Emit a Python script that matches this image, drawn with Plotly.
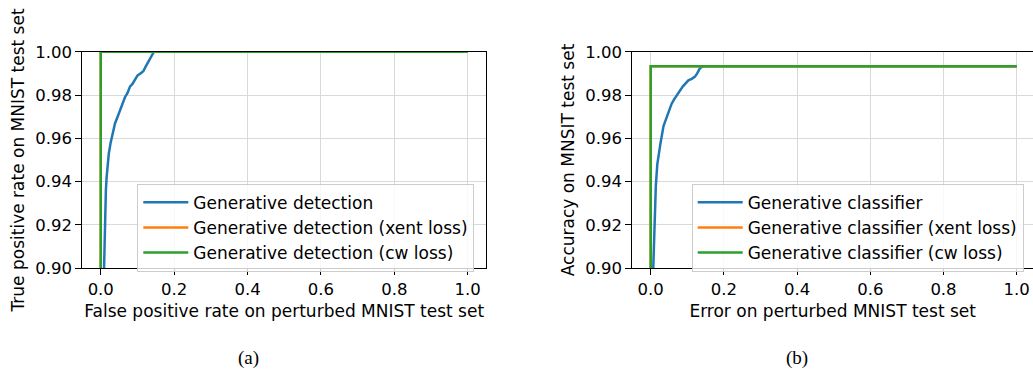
import plotly.graph_objects as go

# ---------------- data ----------------
# (a) detection ROC curves
fpr_gen = [0.009, 0.010, 0.012, 0.014, 0.016, 0.019, 0.022, 0.027, 0.033, 0.039, 0.046,
           0.053, 0.060, 0.066, 0.073, 0.080, 0.086, 0.092, 0.100, 0.108, 0.116, 0.122,
           0.128, 0.134, 0.140, 0.145, 1.0]
tpr_gen = [0.900, 0.912, 0.925, 0.936, 0.942, 0.948, 0.953, 0.958, 0.963, 0.967, 0.970,
           0.973, 0.976, 0.979, 0.981, 0.984, 0.985, 0.987, 0.989, 0.990, 0.991, 0.993,
           0.995, 0.997, 0.999, 1.000, 1.000]
fpr_xent = [0.0, 0.0, 1.0]
tpr_xent = [0.90, 1.0, 1.0]
fpr_cw = [0.0, 0.0, 1.0]
tpr_cw = [0.90, 1.0, 1.0]

# (b) classifier accuracy vs error
err_gen = [0.007, 0.009, 0.011, 0.014, 0.018, 0.022, 0.027, 0.035, 0.042, 0.050, 0.057,
           0.064, 0.072, 0.080, 0.088, 0.096, 0.103, 0.112, 0.121, 0.127, 0.134, 0.140,
           0.145, 1.0]
acc_gen = [0.900, 0.915, 0.928, 0.938, 0.948, 0.953, 0.958, 0.9657, 0.969, 0.973, 0.9759,
           0.978, 0.980, 0.9825, 0.984, 0.9855, 0.9868, 0.9875, 0.9885, 0.990, 0.9922, 0.9930,
           0.9933, 0.9933]
err_xent = [0.0, 0.0, 1.0]
acc_xent = [0.90, 0.9933, 0.9933]
err_cw = [0.0, 0.0, 1.0]
acc_cw = [0.90, 0.9933, 0.9933]

names_a = ["Generative detection", "Generative detection (xent loss)", "Generative detection (cw loss)"]
names_b = ["Generative classifier", "Generative classifier (xent loss)", "Generative classifier (cw loss)"]
colors = ["#1f77b4", "#ff7f0e", "#2ca02c"]

x_ticks = [0.0, 0.2, 0.4, 0.6, 0.8, 1.0]
x_ticktext = ["0.0", "0.2", "0.4", "0.6", "0.8", "1.0"]
y_ticks = [0.90, 0.92, 0.94, 0.96, 0.98, 1.00]
y_ticktext = ["0.90", "0.92", "0.94", "0.96", "0.98", "1.00"]

W, H = 1033, 377
FONT = "DejaVu Sans"

fig = go.Figure()

series_a = [(fpr_gen, tpr_gen), (fpr_xent, tpr_xent), (fpr_cw, tpr_cw)]
series_b = [(err_gen, acc_gen), (err_xent, acc_xent), (err_cw, acc_cw)]

for i, (xs, ys) in enumerate(series_a):
    fig.add_trace(go.Scatter(x=xs, y=ys, mode="lines", name=names_a[i],
                             line=dict(color=colors[i], width=2.5),
                             xaxis="x", yaxis="y", legend="legend"))
for i, (xs, ys) in enumerate(series_b):
    fig.add_trace(go.Scatter(x=xs, y=ys, mode="lines", name=names_b[i],
                             line=dict(color=colors[i], width=2.5),
                             xaxis="x2", yaxis="y2", legend="legend2"))

ydom = [1 - 273 / H, 1 - 45 / H]
xdom1 = [82.4 / W, 486 / W]
xdom2 = [632.4 / W, 1.0]

common_axis = dict(showline=True, linecolor="black", linewidth=1.3,
                   ticks="outside", ticklen=6, tickwidth=1.3, tickcolor="black",
                   showgrid=True, gridcolor="#d9d9d9", gridwidth=1.2,
                   zeroline=False, tickfont=dict(family=FONT, size=16.5, color="black"))

legend_common = dict(yanchor="top", xanchor="left",
                     bgcolor="rgba(255,255,255,0.8)", bordercolor="#cccccc", borderwidth=1,
                     font=dict(family=FONT, size=17, color="black"), itemwidth=45)

fig.update_layout(
    width=W, height=H, autosize=False,
    margin=dict(l=0, r=0, t=0, b=0),
    paper_bgcolor="white", plot_bgcolor="white",
    font=dict(family=FONT, size=17, color="black"),
    xaxis=dict(domain=xdom1, anchor="y", range=[-0.05, 1.05], mirror=True,
               tickvals=x_ticks, ticktext=x_ticktext,
               title=dict(text="False positive rate on perturbed MNIST test set",
                          font=dict(family=FONT, size=17), standoff=6),
               **common_axis),
    yaxis=dict(domain=ydom, anchor="x", range=[0.90, 1.00], mirror=True,
               tickvals=y_ticks, ticktext=y_ticktext,
               title=dict(text="True positive rate on MNIST test set",
                          font=dict(family=FONT, size=17), standoff=6),
               **common_axis),
    xaxis2=dict(domain=xdom2, anchor="y2", range=[-0.05, -0.05 + (W - 632.4) / 366.0],
                mirror=True, tickvals=x_ticks, ticktext=x_ticktext,
                title=dict(text="Error on perturbed MNIST test set",
                           font=dict(family=FONT, size=17), standoff=6),
                **common_axis),
    yaxis2=dict(domain=ydom, anchor="x2", range=[0.90, 1.00], mirror=False,
                tickvals=y_ticks, ticktext=y_ticktext,
                title=dict(text="Accuracy on MNSIT test set",
                           font=dict(family=FONT, size=17), standoff=6),
                **common_axis),
    legend=dict(x=137.3 / W, y=1 - 184 / H, **legend_common),
    legend2=dict(x=691.7 / W, y=1 - 184 / H, **legend_common),
    annotations=[
        dict(text="(a)", x=248 / W, y=1 - 367 / H, xref="paper", yref="paper",
             xanchor="center", yanchor="middle", showarrow=False,
             font=dict(family="Liberation Serif", size=19, color="black")),
        dict(text="(b)", x=797 / W, y=1 - 367 / H, xref="paper", yref="paper",
             xanchor="center", yanchor="middle", showarrow=False,
             font=dict(family="Liberation Serif", size=19, color="black")),
    ],
)

fig.write_html("out.html",
               config={"displayModeBar": False},
               post_script="document.body.style.margin='0px';document.body.style.overflow='hidden';")
